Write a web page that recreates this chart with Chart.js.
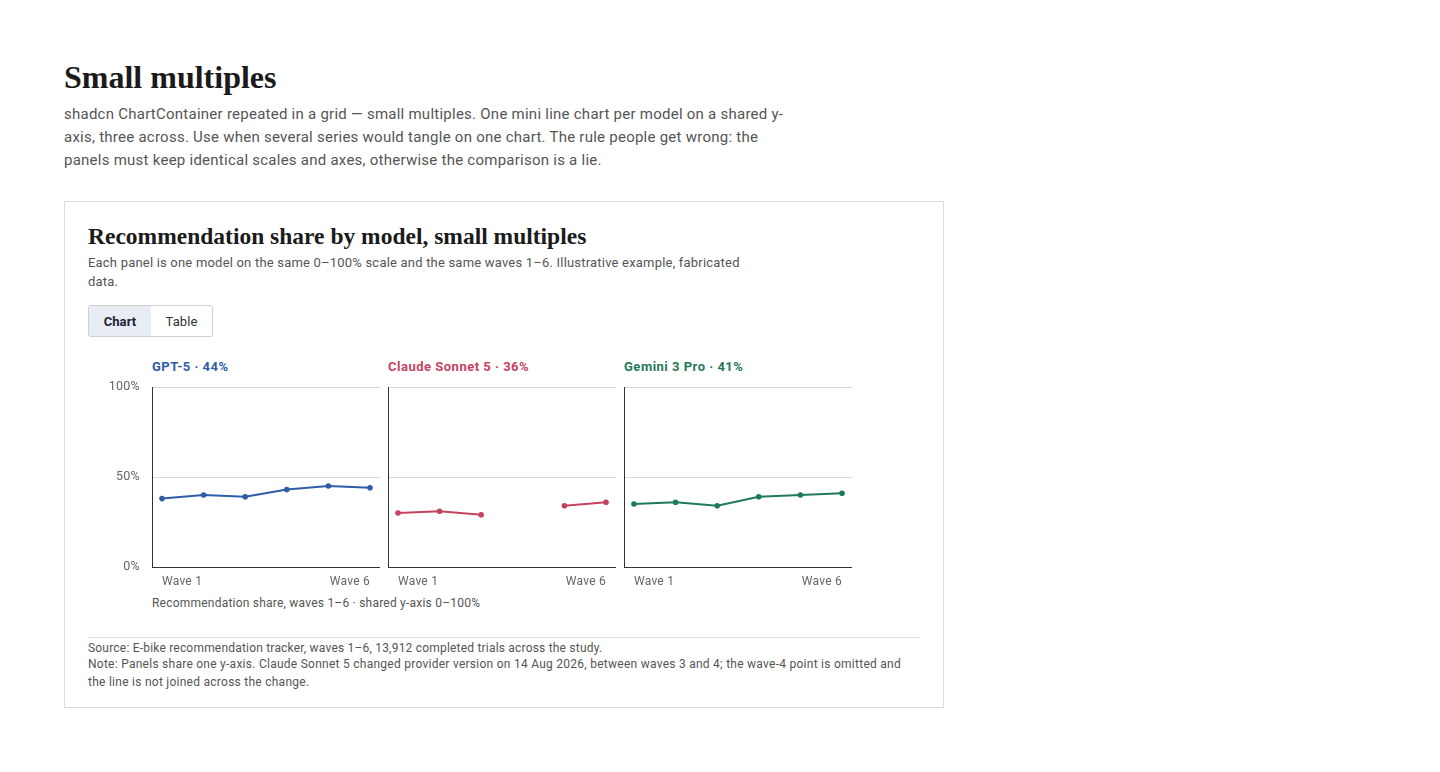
<!DOCTYPE html>
<html>
<head>
<meta charset="utf-8">
<script src="https://cdn.jsdelivr.net/npm/chart.js@4.4.1/dist/chart.umd.min.js"></script>
<style>
  html,body{margin:0;padding:0;background:#fff;}
  body{width:1440px;height:772px;position:relative;overflow:hidden;font-family:Roboto,"Noto Sans",sans-serif;color:#222;letter-spacing:0.25px;}
  .abs{position:absolute;white-space:nowrap;}
  .serif{font-family:"Liberation Serif","DejaVu Serif",serif;font-weight:700;color:#1b1b1b;letter-spacing:0;}
  #h1{left:64px;top:59px;font-size:32px;line-height:36px;}
  #intro{left:64px;top:103px;font-size:15px;line-height:23px;color:#555;}
  #card{left:64px;top:201px;width:878px;height:505px;border:1px solid #dcdcdc;}
  #ctitle{left:88px;top:222px;font-size:23.5px;line-height:28px;}
  #csub{left:88px;top:253px;font-size:13px;line-height:19px;color:#555;letter-spacing:0.2px;}
  #toggle{left:88px;top:305px;width:123px;height:30px;border:1px solid #cfcfcf;border-radius:3px;display:flex;font-size:13px;overflow:hidden;letter-spacing:0.1px;}
  #toggle div{display:flex;align-items:center;justify-content:center;height:30px;}
  #tChart{width:62px;background:#e8ecf3;font-weight:700;color:#1a2233;}
  #tTable{width:61px;color:#333;}
  .ptitle{top:359px;font-size:13px;line-height:16px;font-weight:700;letter-spacing:0.5px;}
  #caption{left:152px;top:595px;font-size:12px;line-height:16px;color:#555;letter-spacing:0.22px;}
  #hr{left:88px;top:637px;width:831px;height:1px;background:#dcdcdc;}
  #source{left:88px;top:640px;font-size:12px;line-height:17px;color:#555;letter-spacing:0.2px;}
  #note{left:88px;top:656px;font-size:12px;line-height:17.5px;color:#555;letter-spacing:0.26px;}
  canvas.panel{position:absolute;}
</style>
</head>
<body>
<div id="h1" class="abs serif">Small multiples</div>
<div id="intro" class="abs">shadcn ChartContainer repeated in a grid — small multiples. One mini line chart per model on a shared y-<br>axis, three across. Use when several series would tangle on one chart. The rule people get wrong: the<br>panels must keep identical scales and axes, otherwise the comparison is a lie.</div>
<div id="card" class="abs"></div>
<div id="ctitle" class="abs serif">Recommendation share by model, small multiples</div>
<div id="csub" class="abs">Each panel is one model on the same 0–100% scale and the same waves 1–6. Illustrative example, fabricated<br>data.</div>
<div id="toggle" class="abs"><div id="tChart">Chart</div><div id="tTable">Table</div></div>
<div id="caption" class="abs">Recommendation share, waves 1–6 · shared y-axis 0–100%</div>
<div id="hr" class="abs"></div>
<div id="source" class="abs">Source: E-bike recommendation tracker, waves 1–6, 13,912 completed trials across the study.</div>
<div id="note" class="abs">Note: Panels share one y-axis. Claude Sonnet 5 changed provider version on 14 Aug 2026, between waves 3 and 4; the wave-4 point is omitted and<br>the line is not joined across the change.</div>

<script>
// ---- data ----
const waveNumbers = [1, 2, 3, 4, 5, 6];
const models = ['GPT-5', 'Claude Sonnet 5', 'Gemini 3 Pro'];
const gpt5Share = [38, 40, 39, 43, 45, 44];
const claudeSonnet5Share = [30, 31, 29, null, 34, 36];
const gemini3ProShare = [35, 36, 34, 39, 40, 41];
const yTickValues = [0, 50, 100];
const xTickWaves = [1, 6];
const modelColors = ['#2f5ca6', '#c4435f', '#1f7a58'];

const seriesList = [gpt5Share, claudeSonnet5Share, gemini3ProShare];

// ---- layout ----
const plotLefts = [152, 388, 624];
const plotWidth = 228;
const yAxisWidths = [60, 0, 0];
const canvasTop = 377;
const canvasHeight = 213;

function lastValue(arr){ for(let i=arr.length-1;i>=0;i--){ if(arr[i]!==null) return arr[i]; } return null; }

seriesList.forEach((series, i) => {
  const t = document.createElement('div');
  t.className = 'abs ptitle';
  t.style.left = plotLefts[i] + 'px';
  t.style.color = modelColors[i];
  t.textContent = models[i] + ' · ' + lastValue(series) + '%';
  document.body.appendChild(t);

  const cv = document.createElement('canvas');
  cv.className = 'panel';
  const w = yAxisWidths[i] + plotWidth;
  cv.width = w; cv.height = canvasHeight;
  cv.style.width = w + 'px'; cv.style.height = canvasHeight + 'px';
  cv.style.left = (plotLefts[i] - yAxisWidths[i]) + 'px';
  cv.style.top = canvasTop + 'px';
  document.body.appendChild(cv);

  new Chart(cv.getContext('2d'), {
    type: 'line',
    data: {
      datasets: [{
        label: models[i],
        data: waveNumbers.map((wv, k) => ({x: wv, y: series[k]})),
        borderColor: modelColors[i],
        backgroundColor: modelColors[i],
        borderWidth: 2,
        pointRadius: 2.8,
        pointBorderWidth: 0,
        pointBackgroundColor: modelColors[i],
        spanGaps: false,
        tension: 0
      }]
    },
    options: {
      responsive: false,
      animation: false,
      layout: { autoPadding: false, padding: { top: 10, left: 0, right: 0, bottom: 0 } },
      plugins: { legend: { display: false }, tooltip: { enabled: false } },
      scales: {
        x: {
          type: 'linear',
          min: 0.76, max: 6.24,
          afterBuildTicks: s => { s.ticks = xTickWaves.map(v => ({value: v})); },
          afterFit: s => { s.height = 23; s.paddingLeft = 0; s.paddingRight = 0; },
          grid: { display: false, drawTicks: false },
          border: { display: true, color: '#333', width: 1 },
          ticks: {
            autoSkip: false, maxRotation: 0, align: 'inner', padding: 8,
            color: '#666', font: { family: 'Roboto', size: 12 },
            callback: v => 'Wave ' + v
          }
        },
        y: {
          min: 0, max: 100,
          afterBuildTicks: s => { s.ticks = yTickValues.map(v => ({value: v})); },
          afterFit: s => { s.width = yAxisWidths[i]; s.paddingTop = 0; s.paddingBottom = 0; },
          grid: { drawTicks: false, color: c => (c.tick && c.tick.value === 0) ? 'rgba(0,0,0,0)' : '#d9d9d9', lineWidth: 1 },
          border: { display: true, color: '#333', width: 1 },
          ticks: {
            display: i === 0, padding: 12,
            color: '#666', font: { family: 'Roboto', size: 12.5 },
            callback: v => v + '%'
          }
        }
      }
    }
  });
});
</script>
</body>
</html>
